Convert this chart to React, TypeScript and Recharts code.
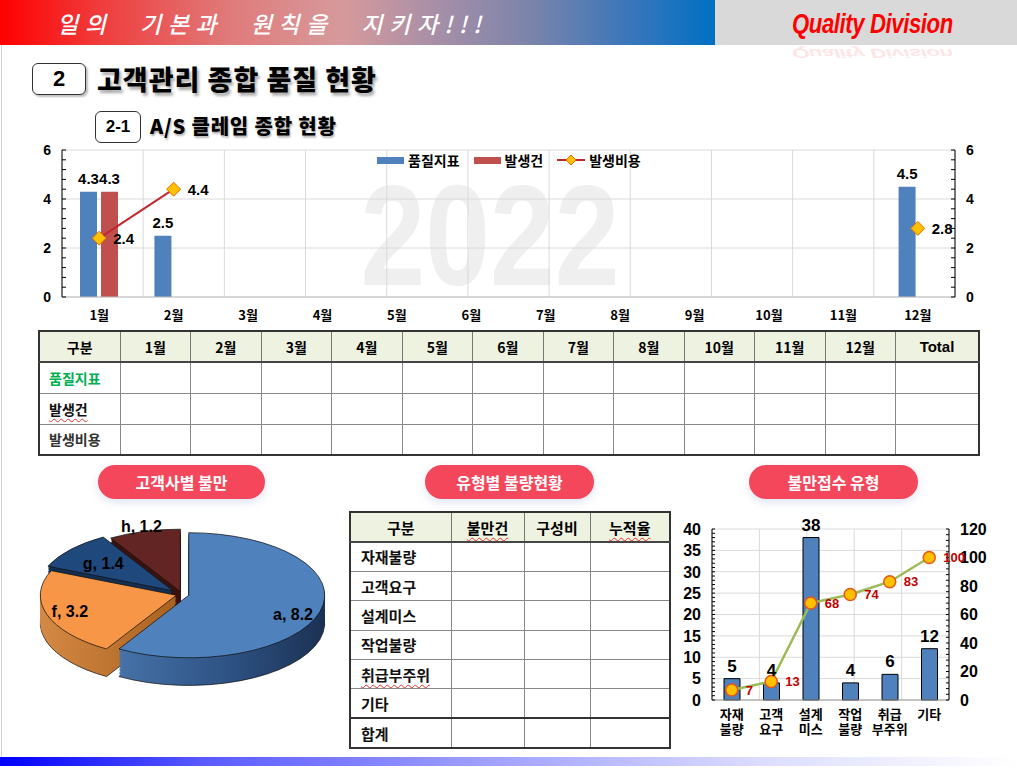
import React from 'react';
import {
  Bar,
  CartesianGrid,
  Cell,
  ComposedChart,
  LabelList,
  Legend,
  Line,
  Pie,
  PieChart,
  XAxis,
  YAxis,
} from 'recharts';

const F_KR = '"Noto Sans CJK KR", "Noto Sans", sans-serif';
const F_NUM = '"Liberation Sans", Arial, sans-serif';

// A/S 클레임 월별
const months = ['1월', '2월', '3월', '4월', '5월', '6월', '7월', '8월', '9월', '10월', '11월', '12월'];
const qualityIndex = [4.3, 2.5, null, null, null, null, null, null, null, null, null, 4.5];
const claimCount = [4.3, null, null, null, null, null, null, null, null, null, null, null];
const claimCost = [2.4, 4.4, null, null, null, null, null, null, null, null, null, 2.8];
const seriesNames = ['품질지표', '발생건', '발생비용'];
const monthMajorTicks = [0, 2, 4, 6];

// 고객사별 불만
const customerNames = ['a', 'f', 'g', 'h'];
const customerValues = [8.2, 3.2, 1.4, 1.2];

// 불만접수 유형
const claimTypes = ['자재불량', '고객요구', '설계미스', '작업불량', '취급부주위', '기타'];
const claimTypeCounts = [5, 4, 38, 4, 6, 12];
const claimTypeCumulative = [7, 13, 68, 74, 83, 100];
const countMajorTicks = [0, 5, 10, 15, 20, 25, 30, 35, 40];
const ratioMajorTicks = [0, 20, 40, 60, 80, 100, 120];

// 표
const tableMonths = ['1월', '2월', '3월', '4월', '5월', '6월', '7월', '8월', '10월', '11월', '12월'];
const tableRows = ['품질지표', '발생건', '발생비용'];
const typeColumns = ['구분', '불만건', '구성비', '누적율'];
const typeRows = ['자재불량', '고객요구', '설계미스', '작업불량', '취급부주위', '기타', '합계'];

const RAD = Math.PI / 180;
const spellErr: React.CSSProperties = {
  textDecoration: 'underline wavy #e03030',
  textDecorationThickness: 1,
  textUnderlineOffset: 3,
};

function minorTicks(max: number, step: number) {
  return Array.from({ length: Math.round(max / step) + 1 }, (_, i) => +(i * step).toFixed(1));
}

function AxisTick(props: any) {
  const { x, y, payload, side, majors, fontSize, len } = props;
  const v = payload.value;
  const dir = side === 'left' ? 1 : -1;
  return (
    <g>
      <line x1={x} x2={x + dir * len} y1={y} y2={y} stroke="#000" strokeWidth={1} />
      {majors.includes(v) && (
        <text
          x={x - dir * 11}
          y={y}
          dy="0.36em"
          textAnchor={side === 'left' ? 'end' : 'start'}
          fontSize={fontSize}
          fontWeight="bold"
          fontFamily={F_NUM}
          fill="#000"
        >
          {v}
        </text>
      )}
    </g>
  );
}

function Diamond(props: any) {
  const { cx, cy, value } = props;
  if (value == null || cx == null || cy == null) return null;
  return (
    <polygon
      points={`${cx},${cy - 7} ${cx + 7},${cy} ${cx},${cy + 7} ${cx - 7},${cy}`}
      fill="#FFC000"
      stroke="#E36C09"
      strokeWidth={1}
    />
  );
}

function MainLegend(props: any) {
  const items = [...(props.payload || [])].sort(
    (a: any, b: any) => seriesNames.indexOf(a.value) - seriesNames.indexOf(b.value),
  );
  return (
    <div style={{ display: 'flex', alignItems: 'center', fontFamily: F_KR, fontSize: 14, fontWeight: 700, color: '#000', lineHeight: '20px' }}>
      {items.map((it: any, i: number) => (
        <div key={i} style={{ display: 'flex', alignItems: 'center', marginRight: 14 }}>
          {it.type === 'line' ? (
            <svg width={28} height={14}>
              <line x1={0} x2={28} y1={7} y2={7} stroke={it.color} strokeWidth={2} />
              <polygon points="14,2 19,7 14,12 9,7" fill="#FFC000" stroke="#E36C09" />
            </svg>
          ) : (
            <span style={{ display: 'inline-block', width: 27, height: 7, background: it.color }} />
          )}
          <span style={{ marginLeft: 4 }}>{it.value}</span>
        </div>
      ))}
    </div>
  );
}

function MonthlyChart() {
  const data = months.map((m, i) => ({
    month: m,
    quality: qualityIndex[i],
    count: claimCount[i],
    cost: claimCost[i],
  }));
  const ticks = minorTicks(6, 0.4);
  const halfSteps = minorTicks(months.length * 2, 1);
  return (
    <ComposedChart
      width={1017}
      height={190}
      data={data}
      margin={{ top: 10, right: 12, bottom: 3, left: 12 }}
      barSize={17}
      barGap={4}
    >
      <CartesianGrid
        yAxisId="left"
        xAxisId="grid"
        stroke="#DADADA"
        horizontalValues={monthMajorTicks}
        verticalValues={halfSteps}
      />
      <XAxis
        dataKey="month"
        axisLine={{ stroke: '#BFBFBF' }}
        tickLine={false}
        tickSize={0}
        tickMargin={0}
        height={30}
        interval={0}
        tick={(p: any) => (
          <text x={p.x} y={p.y} dy={23} textAnchor="middle" fontSize={13} fontWeight="bold" fontFamily={F_KR} fill="#000">
            {p.payload.value}
          </text>
        )}
      />
      <XAxis xAxisId="grid" type="number" domain={[0, months.length * 2]} ticks={halfSteps} allowDataOverflow hide />
      <YAxis
        yAxisId="left"
        width={50}
        domain={[0, 6]}
        ticks={ticks}
        interval={0}
        tickLine={false}
        tickSize={0}
        tickMargin={0}
        axisLine={{ stroke: '#000' }}
        tick={(p: any) => <AxisTick {...p} side="left" majors={monthMajorTicks} fontSize={14} len={4} />}
      />
      <YAxis
        yAxisId="right"
        orientation="right"
        width={50}
        domain={[0, 6]}
        ticks={ticks}
        interval={0}
        tickLine={false}
        tickSize={0}
        tickMargin={0}
        axisLine={{ stroke: '#000' }}
        tick={(p: any) => <AxisTick {...p} side="right" majors={monthMajorTicks} fontSize={14} len={4} />}
      />
      <Legend
        layout="horizontal"
        verticalAlign="middle"
        align="center"
        content={<MainLegend />}
        wrapperStyle={{ top: 10, left: 377, width: 320 }}
      />
      <Bar yAxisId="left" dataKey="quality" name={seriesNames[0]} fill="#4F81BD" isAnimationActive={false}>
        <LabelList dataKey="quality" position="top" offset={8} fill="#000" fontSize={15} fontWeight="bold" fontFamily={F_NUM} />
      </Bar>
      <Bar yAxisId="left" dataKey="count" name={seriesNames[1]} fill="#C0504D" isAnimationActive={false}>
        <LabelList dataKey="count" position="top" offset={8} fill="#000" fontSize={15} fontWeight="bold" fontFamily={F_NUM} />
      </Bar>
      <Line
        yAxisId="right"
        dataKey="cost"
        name={seriesNames[2]}
        type="linear"
        stroke="#C0282D"
        strokeWidth={2}
        dot={<Diamond />}
        activeDot={false}
        isAnimationActive={false}
        legendType="line"
      >
        <LabelList dataKey="cost" position="right" offset={14} fill="#000" fontSize={15} fontWeight="bold" fontFamily={F_NUM} />
      </Line>
    </ComposedChart>
  );
}

function ParetoChart() {
  const data = claimTypes.map((t, i) => ({
    type: t,
    count: claimTypeCounts[i],
    cum: claimTypeCumulative[i],
  }));
  const halfSteps = minorTicks(claimTypes.length * 2, 1);
  return (
    <ComposedChart
      width={347}
      height={245}
      data={data}
      margin={{ top: 24, right: 28, bottom: 10, left: 12 }}
      barSize={16}
    >
      <CartesianGrid
        yAxisId="left"
        xAxisId="grid"
        stroke="#DADADA"
        horizontalValues={countMajorTicks}
        verticalValues={halfSteps}
      />
      <XAxis
        dataKey="type"
        axisLine={{ stroke: '#999' }}
        tickLine={false}
        tickSize={0}
        tickMargin={0}
        height={40}
        interval={0}
        tick={(p: any) => {
          const v: string = p.payload.value;
          const first = v.slice(0, 2);
          const rest = v.slice(2);
          return (
            <text x={p.x} y={p.y} textAnchor="middle" fontSize={13} fontWeight="bold" fontFamily={F_KR} fill="#000">
              <tspan x={p.x} dy={19}>{first}</tspan>
              {rest && <tspan x={p.x} dy={15}>{rest}</tspan>}
            </text>
          );
        }}
      />
      <XAxis xAxisId="grid" type="number" domain={[0, claimTypes.length * 2]} ticks={halfSteps} allowDataOverflow hide />
      <YAxis
        yAxisId="left"
        width={30}
        domain={[0, 40]}
        ticks={minorTicks(40, 1)}
        interval={0}
        tickLine={false}
        tickSize={0}
        tickMargin={0}
        axisLine={{ stroke: '#000' }}
        tick={(p: any) => <AxisTick {...p} side="left" majors={countMajorTicks} fontSize={16} len={3} />}
      />
      <YAxis
        yAxisId="right"
        orientation="right"
        width={40}
        domain={[0, 120]}
        ticks={minorTicks(120, 4)}
        interval={0}
        tickLine={false}
        tickSize={0}
        tickMargin={0}
        axisLine={{ stroke: '#000' }}
        tick={(p: any) => <AxisTick {...p} side="right" majors={ratioMajorTicks} fontSize={16} len={3} />}
      />
      <Bar yAxisId="left" dataKey="count" fill="#4F81BD" stroke="#000" strokeWidth={1} isAnimationActive={false}>
        <LabelList dataKey="count" position="top" offset={7} fill="#000" fontSize={17} fontWeight="bold" fontFamily={F_NUM} />
      </Bar>
      <Line
        yAxisId="right"
        dataKey="cum"
        type="linear"
        stroke="#9BBB59"
        strokeWidth={2.5}
        dot={{ r: 6, fill: '#FFC000', stroke: '#E8561A', strokeWidth: 1.5 }}
        activeDot={false}
        isAnimationActive={false}
      >
        <LabelList dataKey="cum" position="right" offset={14} fill="#C00000" fontSize={13} fontWeight="bold" fontFamily={F_NUM} />
      </Line>
    </ComposedChart>
  );
}

// 3D 느낌의 원형 차트: 세로로 눌러 타원으로 만들고 여러 겹을 쌓아 두께를 표현
const K = 0.46;
const R = 136;
const PIE_W = 330;
const PIE_H = 430;
const CX = 162;
const CY = 190;
const DEPTH = 60;
const STEP = 3;
const explode = [7, 6, 12, 6];
const topColors = ['#4F81BD', '#F79646', '#1F497D', '#632523'];
const sideColors = ['url(#aSide)', 'url(#fSide)', '#142F52', '#3A1311'];
const labelRadius = [0.78, 0.8, 0.7, 1.08];
const labelNudge = [[2, 6], [-3, 1], [2, 1], [0, 0]];

function CustomerPie() {
  const pieData = customerNames.map((n, i) => ({ name: n, value: customerValues[i] }));
  const total = customerValues.reduce((s, v) => s + v, 0);
  let acc = 0;
  const mids = customerValues.map((v) => {
    const a0 = 90 - (acc / total) * 360;
    acc += v;
    const a1 = 90 - (acc / total) * 360;
    return (a0 + a1) / 2;
  });
  const off = mids.map((m, i) => ({
    dx: explode[i] * Math.cos(m * RAD),
    dy: -explode[i] * Math.sin(m * RAD),
  }));

  const renderLabel = (i: number) => (p: any) => {
    if (p.index !== i) return null;
    const r = R * labelRadius[i];
    const x = CX + off[i].dx + r * Math.cos(mids[i] * RAD) + labelNudge[i][0];
    const y = CY + off[i].dy - r * Math.sin(mids[i] * RAD) + labelNudge[i][1] / K;
    return (
      <text
        transform={`translate(${x},${y}) scale(1,${1 / K})`}
        textAnchor="middle"
        dy="0.35em"
        fontSize={16}
        fontWeight="bold"
        fontFamily={F_NUM}
        fill="#000"
      >
        {`${customerNames[i]}, ${customerValues[i]}`}
      </text>
    );
  };

  const nLayers = Math.round(DEPTH / STEP);
  const layers: React.ReactNode[] = [];
  for (let L = nLayers; L >= 0; L--) {
    customerNames.forEach((_, i) => {
      const isTop = L === 0;
      const outline = isTop || L === nLayers;
      layers.push(
        <Pie
          key={`${L}-${i}`}
          data={pieData}
          dataKey="value"
          nameKey="name"
          cx={CX + off[i].dx}
          cy={CY + off[i].dy + L * STEP}
          outerRadius={R}
          innerRadius={0}
          startAngle={90}
          endAngle={-270}
          isAnimationActive={false}
          labelLine={false}
          label={isTop ? renderLabel(i) : false}
        >
          {pieData.map((d, j) => (
            <Cell
              key={d.name}
              fill={j === i ? (isTop ? topColors[i] : sideColors[i]) : 'none'}
              stroke={j === i && outline ? '#111' : 'none'}
              strokeWidth={1}
              vectorEffect="non-scaling-stroke"
            />
          ))}
        </Pie>,
      );
    });
  }

  return (
    <div
      style={{
        position: 'absolute',
        left: 182 - CX,
        top: 594 - CY * K,
        width: PIE_W,
        height: PIE_H,
        transform: `scaleY(${K})`,
        transformOrigin: 'top left',
      }}
    >
      <PieChart width={PIE_W} height={PIE_H} margin={{ top: 0, right: 0, bottom: 0, left: 0 }}>
        <defs>
          <linearGradient id="aSide" x1="0" y1="0" x2="1" y2="0">
            <stop offset="0%" stopColor="#4672A8" />
            <stop offset="55%" stopColor="#2D5182" />
            <stop offset="100%" stopColor="#1B3153" />
          </linearGradient>
          <linearGradient id="fSide" x1="0" y1="0" x2="1" y2="0">
            <stop offset="0%" stopColor="#D48944" />
            <stop offset="100%" stopColor="#A9621F" />
          </linearGradient>
        </defs>
        {layers}
      </PieChart>
    </div>
  );
}

function Pill({ left, width, text }: { left: number; width: number; text: string }) {
  return (
    <div
      style={{
        position: 'absolute',
        left,
        top: 465,
        width,
        height: 34,
        borderRadius: 17,
        background: '#F4475C',
        color: '#fff',
        fontWeight: 700,
        fontSize: 16,
        display: 'flex',
        alignItems: 'center',
        justifyContent: 'center',
        boxShadow: '0 3px 8px rgba(120,140,200,0.25)',
      }}
    >
      {text}
    </div>
  );
}

const th: React.CSSProperties = {
  border: '1px solid #777',
  fontWeight: 700,
  fontSize: 14,
  padding: 0,
  textAlign: 'center',
  color: '#000',
};
const td: React.CSSProperties = { border: '1px solid #888', padding: 0 };

function MonthTable() {
  const labelColor = ['#00B050', '#111', '#333'];
  return (
    <table
      style={{
        position: 'absolute',
        left: 38,
        top: 330,
        width: 940,
        borderCollapse: 'collapse',
        tableLayout: 'fixed',
        border: '2px solid #333',
        fontFamily: F_KR,
      }}
    >
      <colgroup>
        <col style={{ width: 81 }} />
        {tableMonths.map((m) => (
          <col key={m} style={{ width: 70.5 }} />
        ))}
        <col style={{ width: 83.5 }} />
      </colgroup>
      <thead>
        <tr style={{ height: 31, background: '#EEF2E0' }}>
          <th style={{ ...th, borderBottom: '2px solid #444' }}>구분</th>
          {tableMonths.map((m) => (
            <th key={m} style={{ ...th, borderBottom: '2px solid #444' }}>
              {m}
            </th>
          ))}
          <th style={{ ...th, borderBottom: '2px solid #444', fontFamily: F_NUM, fontSize: 15 }}>Total</th>
        </tr>
      </thead>
      <tbody>
        {tableRows.map((r, i) => (
          <tr key={r} style={{ height: 31 }}>
            <td style={{ ...td, fontWeight: 700, fontSize: 14, color: labelColor[i], paddingLeft: 9 }}>
              <span style={r === '발생건' ? spellErr : undefined}>{r}</span>
            </td>
            {tableMonths.map((m) => (
              <td key={m} style={td} />
            ))}
            <td style={td} />
          </tr>
        ))}
      </tbody>
    </table>
  );
}

function TypeTable() {
  return (
    <table
      style={{
        position: 'absolute',
        left: 349,
        top: 511,
        width: 320,
        borderCollapse: 'collapse',
        tableLayout: 'fixed',
        border: '2px solid #333',
        fontFamily: F_KR,
      }}
    >
      <colgroup>
        <col style={{ width: 101 }} />
        <col style={{ width: 73 }} />
        <col style={{ width: 66 }} />
        <col style={{ width: 80 }} />
      </colgroup>
      <thead>
        <tr style={{ height: 30, background: '#EEF2E0' }}>
          {typeColumns.map((c) => (
            <th key={c} style={{ ...th, fontSize: 15, borderBottom: '2px solid #444' }}>
              <span style={c === '불만건' || c === '누적율' ? spellErr : undefined}>{c}</span>
            </th>
          ))}
        </tr>
      </thead>
      <tbody>
        {typeRows.map((r) => {
          const sum = r === '합계';
          const b = sum ? { borderTop: '2px solid #333' } : {};
          return (
            <tr key={r} style={{ height: 29.4 }}>
              <td style={{ ...td, ...b, fontWeight: 700, fontSize: 15, color: '#111', paddingLeft: 10 }}>
                <span style={r === '취급부주위' ? spellErr : undefined}>{r}</span>
              </td>
              <td style={{ ...td, ...b }} />
              <td style={{ ...td, ...b }} />
              <td style={{ ...td, ...b }} />
            </tr>
          );
        })}
      </tbody>
    </table>
  );
}

export default function App() {
  const qd: React.CSSProperties = {
    position: 'absolute',
    left: 792,
    color: '#FF0000',
    fontFamily: F_NUM,
    fontSize: 27,
    lineHeight: '32px',
    fontStyle: 'italic',
    fontWeight: 700,
    letterSpacing: -0.5,
    whiteSpace: 'nowrap',
  };
  return (
    <div
      style={{
        position: 'absolute',
        left: 0,
        top: 0,
        width: 1017,
        height: 768,
        background: '#fff',
        overflow: 'hidden',
        fontFamily: F_KR,
      }}
    >
      {/* 상단 배너 */}
      <div
        style={{
          position: 'absolute',
          left: 0,
          top: 0,
          width: 715,
          height: 45,
          overflow: 'hidden',
          background:
            'linear-gradient(90deg, #ff0000 0%, #f03c3c 14%, #e07a7a 32%, #d69a9c 48%, #a48ea8 62%, #7c84aa 74%, #3a76ba 88%, #0070c4 100%)',
        }}
      >
        <div
          style={{
            position: 'absolute',
            left: 57,
            top: 7,
            color: '#fff',
            fontSize: 23,
            lineHeight: '32px',
            fontStyle: 'italic',
            fontWeight: 500,
            letterSpacing: 6.5,
            wordSpacing: 16,
            whiteSpace: 'nowrap',
          }}
        >
          일의 기본과 원칙을 지키자!!!
        </div>
      </div>
      <div style={{ position: 'absolute', left: 715, top: 0, width: 302, height: 45, background: '#D9D9D9' }} />
      <div style={{ ...qd, top: 8, transform: 'scaleX(0.82)', transformOrigin: 'left top' }}>Quality Division</div>
      <div
        style={{
          ...qd,
          top: 61,
          opacity: 0.1,
          transform: 'scale(0.82, -0.5)',
          transformOrigin: 'left top',
        }}
      >
        Quality Division
      </div>

      {/* 좌측 테두리, 하단 띠 */}
      <div style={{ position: 'absolute', left: 1, top: 45, width: 1, height: 712, background: '#D0D0D0' }} />
      <div
        style={{
          position: 'absolute',
          left: 0,
          top: 757,
          width: 1017,
          height: 9,
          background: 'linear-gradient(90deg, #0000ff 0%, #5a5aff 20%, #a0a0ff 48%, #dcdcff 75%, #ffffff 100%)',
        }}
      />

      {/* 제목 */}
      <div
        style={{
          position: 'absolute',
          left: 32,
          top: 63,
          width: 52,
          height: 30,
          border: '1.5px solid #333',
          borderRadius: 6,
          background: '#fff',
          boxShadow: '2px 2px 2px rgba(0,0,0,0.25)',
          display: 'flex',
          alignItems: 'center',
          justifyContent: 'center',
          fontFamily: F_NUM,
          fontWeight: 700,
          fontSize: 22,
        }}
      >
        2
      </div>
      <div
        style={{
          position: 'absolute',
          left: 97,
          top: 62,
          fontSize: 27,
          lineHeight: '34px',
          fontWeight: 900,
          letterSpacing: 1,
          color: '#000',
          textShadow: '2px 3px 3px rgba(0,0,0,0.35)',
          whiteSpace: 'nowrap',
        }}
      >
        고객관리 종합 품질 현황
      </div>
      <div
        style={{
          position: 'absolute',
          left: 95,
          top: 111,
          width: 44,
          height: 30,
          border: '1.5px solid #333',
          borderRadius: 6,
          background: '#fff',
          display: 'flex',
          alignItems: 'center',
          justifyContent: 'center',
          fontFamily: F_NUM,
          fontWeight: 700,
          fontSize: 17,
        }}
      >
        2-1
      </div>
      <div
        style={{
          position: 'absolute',
          left: 150,
          top: 111,
          fontSize: 20,
          lineHeight: '30px',
          fontWeight: 900,
          letterSpacing: 0.8,
          color: '#000',
          textShadow: '1px 2px 2px rgba(0,0,0,0.3)',
          whiteSpace: 'nowrap',
        }}
      >
        A/S 클레임 종합 현황
      </div>

      {/* 월별 차트 */}
      <svg style={{ position: 'absolute', left: 0, top: 140 }} width={1017} height={190}>
        <text
          transform="translate(490,145) scale(0.82,1)"
          textAnchor="middle"
          fontSize={142}
          fontWeight="bold"
          fontFamily={F_NUM}
          fill="#EFEFEF"
        >
          2022
        </text>
      </svg>
      <div style={{ position: 'absolute', left: 0, top: 140 }}>
        <MonthlyChart />
      </div>

      <MonthTable />

      <Pill left={98} width={167} text="고객사별 불만" />
      <Pill left={425} width={169} text="유형별 불량현황" />
      <Pill left={749} width={169} text="불만접수 유형" />

      <CustomerPie />
      <TypeTable />

      <div style={{ position: 'absolute', left: 670, top: 505 }}>
        <ParetoChart />
      </div>
    </div>
  );
}
